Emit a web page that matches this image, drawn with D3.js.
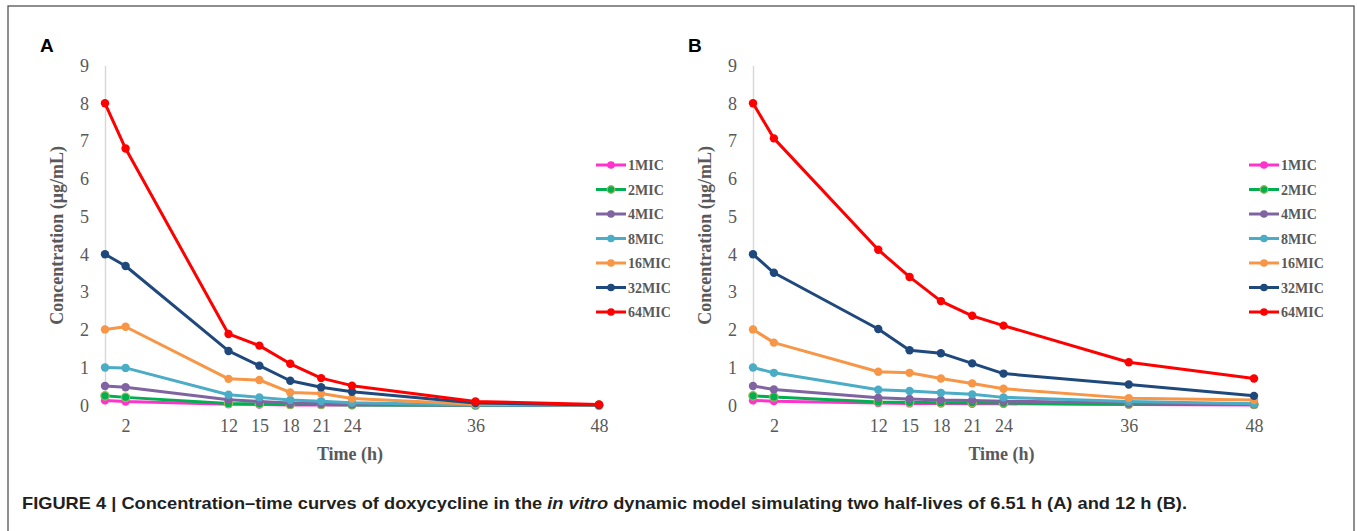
<!DOCTYPE html>
<html>
<head>
<meta charset="utf-8">
<script src="https://cdn.jsdelivr.net/npm/d3@7"></script>
<style>
  body { margin: 0; background: #fff; }
  svg { display: block; }
</style>
</head>
<body>
<svg id="chart" width="1357" height="531"></svg>
<script>
// sampling times (h)
let times = [0, 2, 12, 15, 18, 21, 24, 36, 48];
let xTicks = [2, 12, 15, 18, 21, 24, 36, 48];
let yTicks = [0, 1, 2, 3, 4, 5, 6, 7, 8, 9];
let seriesNames = ["1MIC", "2MIC", "4MIC", "8MIC", "16MIC", "32MIC", "64MIC"];
let seriesColors = ["#ff33cc", "#00b050", "#8064a2", "#4bacc6", "#f79646", "#1f497d", "#ff0000"];

// panel A, half-life 6.51 h
let a1MIC  = [0.13, 0.10, 0.03, 0.02, 0.01, 0.01, 0.01, 0.00, 0.00];
let a2MIC  = [0.25, 0.21, 0.05, 0.04, 0.02, 0.02, 0.01, 0.00, 0.00];
let a4MIC  = [0.51, 0.48, 0.15, 0.10, 0.06, 0.05, 0.03, 0.01, 0.00];
let a8MIC  = [1.00, 0.99, 0.28, 0.21, 0.14, 0.11, 0.07, 0.01, 0.00];
let a16MIC = [2.01, 2.08, 0.70, 0.67, 0.34, 0.31, 0.18, 0.03, 0.01];
let a32MIC = [4.00, 3.69, 1.44, 1.05, 0.65, 0.48, 0.36, 0.06, 0.01];
let a64MIC = [8.00, 6.80, 1.89, 1.58, 1.10, 0.72, 0.52, 0.10, 0.02];

// panel B, half-life 12 h
let b1MIC  = [0.13, 0.11, 0.06, 0.05, 0.05, 0.04, 0.04, 0.02, 0.01];
let b2MIC  = [0.25, 0.22, 0.09, 0.08, 0.07, 0.07, 0.06, 0.03, 0.02];
let b4MIC  = [0.51, 0.42, 0.20, 0.17, 0.14, 0.13, 0.11, 0.06, 0.03];
let b8MIC  = [1.00, 0.86, 0.41, 0.38, 0.33, 0.29, 0.21, 0.10, 0.04];
let b16MIC = [2.01, 1.66, 0.89, 0.86, 0.71, 0.58, 0.44, 0.19, 0.14];
let b32MIC = [4.00, 3.51, 2.02, 1.46, 1.38, 1.11, 0.84, 0.55, 0.25];
let b64MIC = [8.00, 7.07, 4.12, 3.40, 2.76, 2.37, 2.11, 1.14, 0.71];

let panels = [
  { label: "A", left: 105, right: 599, legendX: 596, series: [a1MIC, a2MIC, a4MIC, a8MIC, a16MIC, a32MIC, a64MIC] },
  { label: "B", left: 753, right: 1254, legendX: 1249, series: [b1MIC, b2MIC, b4MIC, b8MIC, b16MIC, b32MIC, b64MIC] }
];

let svg = d3.select("#chart");
let serif = "'Liberation Serif', 'DejaVu Serif', serif";
let sans = "'Liberation Sans', Arial, sans-serif";
let grey = "#595959";

// outer frame
svg.append("rect")
  .attr("x", 8).attr("y", 6)
  .attr("width", 1346).attr("height", 560)
  .attr("fill", "none")
  .attr("stroke", "#444")
  .attr("stroke-width", 1.2);

let plotTop = 65.5, plotBottom = 405.3;

panels.forEach(function (p) {
  let x = d3.scaleLinear().domain([0, 48]).range([p.left, p.right]);
  let y = d3.scaleLinear().domain([0, 9]).range([plotBottom, plotTop]);
  let g = svg.append("g");

  g.append("text")
    .attr("x", p.left - 65).attr("y", 52)
    .attr("font-family", sans).attr("font-weight", "bold")
    .attr("font-size", 19).attr("fill", "#000")
    .text(p.label);

  // y axis
  let yAxis = g.append("g")
    .attr("transform", "translate(" + p.left + ",0)")
    .call(d3.axisLeft(y).tickValues(yTicks).tickSize(0).tickPadding(16));
  yAxis.select(".domain").attr("stroke", "#d9d9d9").attr("stroke-width", 1.5);
  yAxis.selectAll("text")
    .attr("font-family", serif).attr("font-size", 18).attr("fill", grey);

  // x axis (no visible line)
  let xAxis = g.append("g")
    .attr("transform", "translate(0," + plotBottom + ")")
    .call(d3.axisBottom(x).tickValues(xTicks).tickSize(0).tickPadding(14));
  xAxis.select(".domain").remove();
  xAxis.selectAll("text")
    .attr("font-family", serif).attr("font-size", 18).attr("fill", grey);

  g.append("text")
    .attr("x", (p.left + p.right) / 2 - 2).attr("y", 460)
    .attr("text-anchor", "middle")
    .attr("font-family", serif).attr("font-weight", "bold")
    .attr("font-size", 18).attr("fill", grey)
    .text("Time (h)");

  g.append("text")
    .attr("transform", "translate(" + (p.left - 42) + "," + ((plotTop + plotBottom) / 2) + ") rotate(-90)")
    .attr("text-anchor", "middle")
    .attr("font-family", serif).attr("font-weight", "bold")
    .attr("font-size", 18).attr("fill", grey)
    .text("Concentration (μg/mL)");

  let line = d3.line()
    .x(function (d, i) { return x(times[i]); })
    .y(function (d) { return y(d); });

  p.series.forEach(function (vals, k) {
    let color = seriesColors[k];
    g.append("path")
      .datum(vals)
      .attr("fill", "none")
      .attr("stroke", color)
      .attr("stroke-width", 3)
      .attr("stroke-linejoin", "round")
      .attr("d", line);
    g.selectAll(".pt" + k)
      .data(vals)
      .enter().append("circle")
      .attr("class", "pt" + k)
      .attr("cx", function (d, i) { return x(times[i]); })
      .attr("cy", function (d) { return y(d); })
      .attr("r", 4.2)
      .attr("fill", color)
      .attr("stroke", k === 1 ? "#9bbb59" : "none")
      .attr("stroke-width", 1.2);
  });

  // legend
  let leg = g.selectAll(".leg")
    .data(seriesNames)
    .enter().append("g")
    .attr("class", "leg")
    .attr("transform", function (d, i) { return "translate(" + p.legendX + "," + (165 + i * 24.5) + ")"; });
  leg.append("line")
    .attr("x1", 0).attr("x2", 30)
    .attr("stroke", function (d, i) { return seriesColors[i]; })
    .attr("stroke-width", 3);
  leg.append("circle")
    .attr("cx", 15).attr("r", 3.8)
    .attr("fill", function (d, i) { return seriesColors[i]; })
    .attr("stroke", function (d, i) { return i === 1 ? "#9bbb59" : "none"; })
    .attr("stroke-width", 1.2);
  leg.append("text")
    .attr("x", 32).attr("y", 5)
    .attr("font-family", serif).attr("font-weight", "bold")
    .attr("font-size", 14).attr("fill", grey)
    .text(function (d) { return d; });
});

// caption
let cap = svg.append("text")
  .attr("x", 22).attr("y", 509)
  .attr("font-family", sans).attr("font-weight", "bold")
  .attr("font-size", 17).attr("fill", "#231f20")
  .attr("textLength", 1165)
  .attr("lengthAdjust", "spacingAndGlyphs");
cap.append("tspan").text("FIGURE 4 | Concentration–time curves of doxycycline in the ");
cap.append("tspan").attr("font-style", "italic").text("in vitro");
cap.append("tspan").text(" dynamic model simulating two half-lives of 6.51 h (A) and 12 h (B).");
</script>
</body>
</html>
